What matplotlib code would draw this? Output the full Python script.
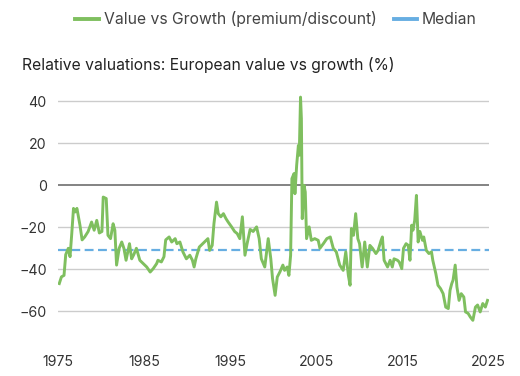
import matplotlib.pyplot as plt

# values (decimal year, premium/discount %)
years = [1975.15, 1975.4, 1975.7, 1975.9, 1976.2, 1976.4, 1976.6, 1976.8, 1977.0, 1977.2,
         1977.55, 1977.8, 1978.1, 1978.5, 1978.9, 1979.2, 1979.5, 1979.8, 1980.1, 1980.25,
         1980.6, 1980.8, 1981.1, 1981.4, 1981.6, 1981.8, 1982.1, 1982.4, 1982.65, 1982.9,
         1983.3, 1983.55, 1983.8, 1984.1, 1984.5, 1984.9, 1985.3, 1985.7, 1986.05, 1986.45,
         1986.6, 1987.0, 1987.3, 1987.5, 1987.9, 1988.2, 1988.6, 1988.8, 1989.15, 1989.5,
         1989.9, 1990.3, 1990.6, 1990.8, 1991.0, 1991.4, 1991.8, 1992.2, 1992.4, 1992.6,
         1992.9, 1993.1, 1993.4, 1993.6, 1993.9, 1994.2, 1994.5, 1994.75, 1995.15, 1995.5,
         1995.8, 1996.1, 1996.4, 1996.7, 1996.95, 1997.3, 1997.65, 1998.05, 1998.35, 1998.6,
         1999.0, 1999.4, 1999.7, 1999.9, 2000.2, 2000.45, 2000.75, 2001.1, 2001.3, 2001.6,
         2001.8, 2002.0, 2002.15, 2002.4, 2002.5, 2002.7, 2002.9, 2003.0, 2003.15, 2003.25,
         2003.35, 2003.55, 2003.7, 2003.85, 2004.15, 2004.4, 2004.8, 2005.2, 2005.4, 2005.8,
         2006.2, 2006.6, 2006.95, 2007.3, 2007.7, 2008.1, 2008.4, 2008.7, 2008.9, 2009.05,
         2009.3, 2009.55, 2009.8, 2010.0, 2010.3, 2010.6, 2010.9, 2011.2, 2011.5, 2011.9,
         2012.15, 2012.5, 2012.65, 2012.85, 2013.25, 2013.55, 2013.8, 2014.0, 2014.4, 2014.6,
         2014.9, 2015.1, 2015.4, 2015.65, 2015.85, 2016.05, 2016.2, 2016.4, 2016.6, 2016.8,
         2017.0, 2017.3, 2017.45, 2017.75, 2018.05, 2018.35, 2018.5, 2018.85, 2019.1, 2019.4,
         2019.7, 2020.0, 2020.3, 2020.5, 2020.7, 2020.85, 2021.1, 2021.3, 2021.55, 2021.8,
         2022.1, 2022.3, 2022.6, 2022.85, 2023.15, 2023.45, 2023.7, 2024.0, 2024.3, 2024.6,
         2024.85]
values = [-46.8, -43.6, -42.9, -33.0, -30.0, -34.0, -23.0, -11.0, -12.7, -11.0,
          -19.0, -26.0, -24.6, -22.0, -17.5, -21.4, -16.7, -22.7, -22.0, -5.6,
          -6.3, -23.8, -25.4, -18.3, -21.4, -38.0, -30.0, -27.0, -30.0, -35.7,
          -27.8, -35.0, -33.0, -30.0, -35.7, -37.3, -38.9, -41.3, -39.7, -37.3,
          -35.7, -36.5, -34.0, -26.0, -24.6, -27.0, -25.4, -27.8, -27.0, -31.7,
          -35.0, -33.3, -35.7, -38.9, -35.0, -29.4, -27.8, -26.2, -25.4, -31.0,
          -28.6, -18.3, -8.0, -13.5, -15.0, -13.5, -15.9, -17.5, -19.8, -22.0,
          -23.0, -25.4, -15.0, -33.3, -27.8, -21.0, -22.0, -19.8, -25.4, -35.0,
          -38.9, -25.4, -35.0, -44.4, -52.4, -43.7, -41.3, -38.0, -40.5, -38.9,
          -42.9, -33.3, 3.2, 5.6, -4.0, 9.5, 19.0, 14.3, 42.0, 31.7,
          -15.9, 0.0, -3.2, -25.4, -19.8, -26.2, -25.4, -26.2, -30.0, -27.8,
          -25.4, -24.6, -30.0, -31.7, -38.0, -40.5, -31.7, -42.9, -47.6, -20.6,
          -23.8, -13.5, -25.4, -27.8, -38.9, -27.0, -38.9, -28.6, -30.0, -32.5,
          -31.0, -26.2, -24.6, -35.7, -38.9, -35.7, -38.9, -35.0, -35.7, -36.5,
          -39.7, -30.0, -27.8, -28.6, -35.7, -19.0, -21.4, -16.7, -4.8, -27.0,
          -22.0, -26.2, -24.6, -31.0, -32.5, -31.7, -35.7, -42.0, -47.6, -49.2,
          -51.6, -58.0, -58.7, -50.0, -46.8, -45.2, -38.0, -48.4, -54.8, -51.6,
          -53.2, -60.3, -61.0, -62.7, -64.3, -58.0, -57.0, -60.3, -56.3, -58.0,
          -54.8]
median = -31
yticks = [-60, -40, -20, 0, 20, 40]
xticks = [1975, 1985, 1995, 2005, 2015, 2025]

plt.rcParams['font.family'] = ['Inter', 'DejaVu Sans']

fig = plt.figure(figsize=(5.2, 3.76), dpi=100)
ax = fig.add_axes([0.1115, 0.0883, 0.8285, 0.6702])

for t in yticks:
    if t != 0:
        ax.axhline(t, color='#cccccc', lw=1.0, zorder=1)
ax.axhline(0, color='#6e6e6e', lw=1.2, zorder=1)

ax.plot(years, values, color='#7fbf5f', lw=2.1, zorder=3,
        label='Value vs Growth (premium/discount)')
ax.axhline(median, color='#67aee2', lw=1.6, dashes=(4, 2), zorder=2)
# solid handle for the legend, as in the reference
ax.plot([], [], color='#67aee2', lw=2.2, label='Median')

ax.set_xlim(1975, 2025)
ax.set_ylim(-75, 45)
ax.set_xticks(xticks)
ax.set_yticks(yticks)
ax.tick_params(length=0, labelsize=10.2, colors='#333333')
ax.tick_params(axis='y', pad=8)
ax.tick_params(axis='x', pad=9)
for s in ax.spines.values():
    s.set_visible(False)

fig.text(0.043, 0.827, 'Relative valuations: European value vs growth (%)',
         fontsize=11.3, color='#222222', va='center')

leg = ax.legend(loc='center', bbox_to_anchor=(0.531, 0.949), bbox_transform=fig.transFigure,
                ncol=2, frameon=False, fontsize=11.3, handlelength=1.5,
                handletextpad=0.3, columnspacing=1.1)
for txt in leg.get_texts():
    txt.set_color('#444444')
for ln in leg.get_lines():
    ln.set_linewidth(2.8)

fig.savefig('out.png', dpi=100)
